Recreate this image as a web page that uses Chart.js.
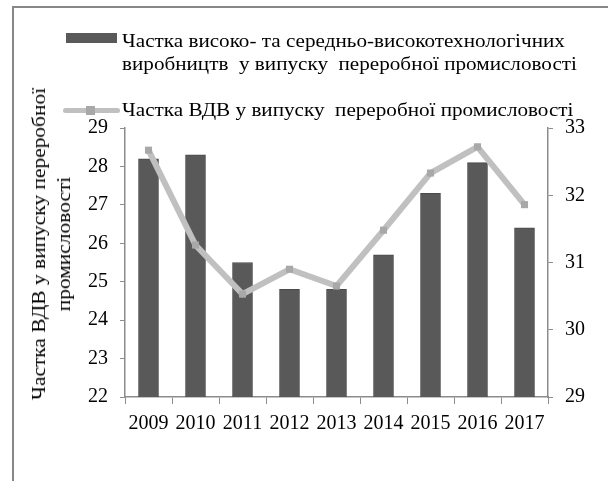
<!DOCTYPE html>
<html>
<head>
<meta charset="utf-8">
<script src="https://cdn.jsdelivr.net/npm/chart.js@4/dist/chart.umd.min.js"></script>
<style>
  body { margin: 0; background: #fff; }
  #wrap { position: relative; width: 608px; height: 481px; overflow: hidden; }
  #frame { position: absolute; left: 12px; top: 6px; width: 620px; height: 500px;
           border-left: 2px solid #878787; border-top: 2px solid #878787; }
  #myChart { position: absolute; left: 0; top: 0; }
  .leg { position: absolute; font-family: "Liberation Serif", serif; font-size: 18px;
         color: #000; line-height: 23px; white-space: nowrap;
         transform-origin: left top; transform: scaleX(1.175); }
  .sw-bar { position: absolute; left: 66px; top: 33px; width: 51px; height: 10px; background: #595959; }
  .sw-line { position: absolute; left: 63px; top: 108px; width: 57px; height: 5px; background: #c0c0c0; border-radius: 3px; }
  .sw-mark { position: absolute; left: 86px; top: 106px; width: 9px; height: 9px; background: #a8a8a8; }
  /* rotated title of the left axis */
  #ytitle { position: absolute; left: -118px; top: 219px; width: 340px; height: 50px;
            font-family: "Liberation Serif", serif; font-size: 18px; line-height: 25px;
            text-align: center; color: #000; white-space: nowrap;
            transform-origin: center; transform: rotate(-90deg) scaleX(1.19); }
</style>
</head>
<body>
<div id="wrap">
  <div id="frame"></div>
  <canvas id="myChart" width="608" height="481"></canvas>
  <div class="sw-bar"></div>
  <div class="leg" style="left:122px; top:30px;">Частка високо- та середньо-високотехнологічних<br>виробництв&nbsp; у випуску&nbsp; переробної промисловості</div>
  <div class="sw-line"></div>
  <div class="sw-mark"></div>
  <div class="leg" style="left:122px; top:99px;">Частка ВДВ у випуску&nbsp; переробної промисловості</div>
  <div id="ytitle">Частка ВДВ у випуску переробної<br>промисловості</div>
</div>
<script>
const years = ['2009', '2010', '2011', '2012', '2013', '2014', '2015', '2016', '2017'];
// high & medium-high tech share (left axis)
const techShare = [28.2, 28.3, 25.5, 24.8, 24.8, 25.7, 27.3, 28.1, 26.4];
// value-added share (right axis)
const vaShare = [32.67, 31.26, 30.53, 30.9, 30.65, 31.48, 32.33, 32.72, 31.86];
const leftTicks = [22, 29];
const rightTicks = [29, 33];

const serif = { family: 'Liberation Serif', size: 20 };
const axisGray = '#8c8c8c';

function createChart() {
    const ctx = document.getElementById('myChart');

    new Chart(ctx, {
        data: {
            labels: years,
            datasets: [
                {
                    type: 'line',
                    label: 'Частка ВДВ у випуску переробної промисловості',
                    data: vaShare,
                    yAxisID: 'y1',
                    borderColor: '#c0c0c0',
                    borderWidth: 6,
                    pointStyle: 'rect',
                    pointRadius: 5,
                    pointBackgroundColor: '#a8a8a8',
                    pointBorderWidth: 0,
                    tension: 0,
                    order: 0
                },
                {
                    type: 'bar',
                    label: 'Частка високо- та середньо-високотехнологічних виробництв у випуску переробної промисловості',
                    data: techShare,
                    yAxisID: 'y',
                    backgroundColor: '#595959',
                    borderColor: '#4a4a4a',
                    borderWidth: 1,
                    barThickness: 20,
                    order: 1
                }
            ]
        },
        options: {
            responsive: false,
            animation: false,
            layout: { padding: { left: 20, right: 12, top: 128, bottom: 45 } },
            plugins: {
                legend: { display: false },
                tooltip: { enabled: false }
            },
            scales: {
                x: {
                    offset: true,
                    grid: { offset: true, drawOnChartArea: false, drawTicks: true, tickLength: 7, color: axisGray },
                    border: { display: true, color: axisGray, width: 1.5 },
                    ticks: { color: '#000', font: serif, padding: 8, maxRotation: 0, autoSkip: false },
                    afterFit: s => { s.height = 39; }
                },
                y: {
                    position: 'left',
                    min: leftTicks[0],
                    max: leftTicks[1],
                    grid: { drawOnChartArea: false, drawTicks: true, tickLength: 5, color: axisGray },
                    border: { display: true, color: axisGray, width: 1.5 },
                    ticks: { stepSize: 1, color: '#000', font: serif, padding: 12 },
                    afterFit: s => { s.width = 105; }
                },
                y1: {
                    position: 'right',
                    min: rightTicks[0],
                    max: rightTicks[1],
                    grid: { drawOnChartArea: false, drawTicks: true, tickLength: 5, color: axisGray },
                    border: { display: true, color: axisGray, width: 1.5 },
                    ticks: { stepSize: 1, color: '#000', font: serif, padding: 12 },
                    afterFit: s => { s.width = 48; }
                }
            }
        }
    });
}

createChart();
</script>
</body>
</html>
